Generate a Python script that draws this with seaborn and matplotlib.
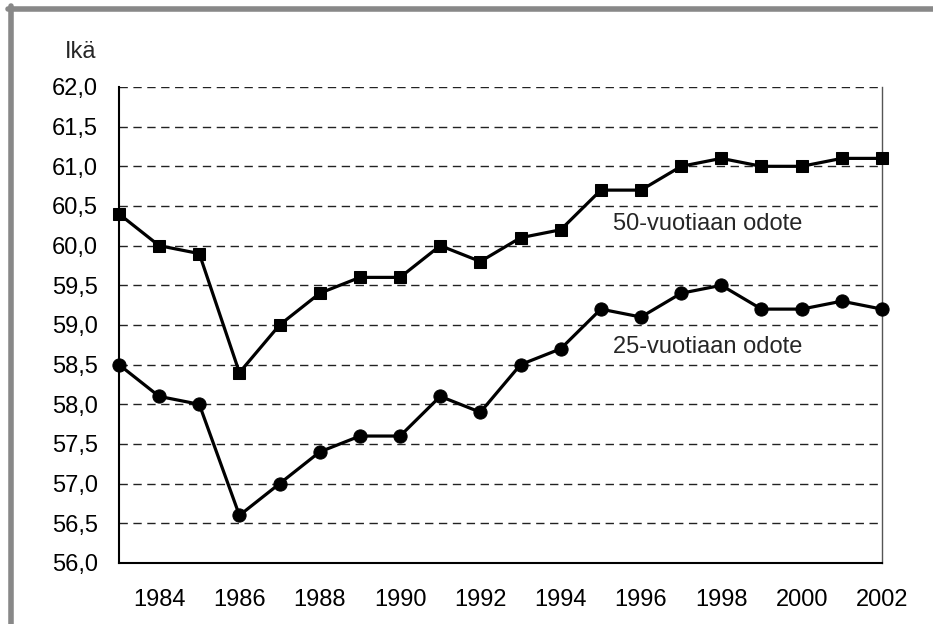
import matplotlib
matplotlib.use("Agg")
import matplotlib.pyplot as plt
import seaborn as sns
import pandas as pd

# data
years = list(range(1983, 2003))
odote_50 = [60.4, 60.0, 59.9, 58.4, 59.0, 59.4, 59.6, 59.6, 60.0, 59.8,
            60.1, 60.2, 60.7, 60.7, 61.0, 61.1, 61.0, 61.0, 61.1, 61.1]
odote_25 = [58.5, 58.1, 58.0, 56.6, 57.0, 57.4, 57.6, 57.6, 58.1, 57.9,
            58.5, 58.7, 59.2, 59.1, 59.4, 59.5, 59.2, 59.2, 59.3, 59.2]
y_ticks = [56.0, 56.5, 57.0, 57.5, 58.0, 58.5, 59.0, 59.5, 60.0, 60.5, 61.0, 61.5, 62.0]

df = pd.DataFrame({"vuosi": years, "50": odote_50, "25": odote_25})

sns.set_style("white")
plt.rcParams["font.family"] = ["Liberation Sans", "DejaVu Sans"]

fig = plt.figure(figsize=(9.33, 6.24), dpi=100)
ax = fig.add_axes([0.1275, 0.0978, 0.8178, 0.7628])

sns.lineplot(data=df, x="vuosi", y="50", ax=ax, color="black", linewidth=2.3,
             marker="s", markersize=9, markeredgecolor="black", clip_on=False, zorder=5)
sns.lineplot(data=df, x="vuosi", y="25", ax=ax, color="black", linewidth=2.3,
             marker="o", markersize=9.5, markeredgecolor="black", clip_on=False, zorder=5)

ax.set_xlim(1983, 2002)
ax.set_ylim(56, 62)
ax.set_yticks(y_ticks)
ax.set_yticklabels([f"{v:.1f}".replace(".", ",") for v in y_ticks], fontsize=17)
ax.set_xticks(years)
ax.set_xticklabels([str(y) if y % 2 == 0 else "" for y in years], fontsize=17)
ax.tick_params(axis="y", direction="out", length=6, width=1, pad=9, colors="black")
ax.tick_params(axis="x", direction="out", length=6, width=1, pad=13, colors="black")
ax.set_xlabel("")
ax.set_ylabel("")

ax.grid(axis="y", color="#222222", linestyle=(0, (6, 4)), linewidth=1)
ax.grid(axis="x", visible=False)
for s in ["left", "bottom"]:
    ax.spines[s].set_color("black")
    ax.spines[s].set_linewidth(1.5)
ax.spines["top"].set_visible(False)
ax.spines["right"].set_color("#555555")
ax.spines["right"].set_linewidth(1)

ax.text(1995.3, 60.27, "50-vuotiaan odote", fontsize=17, va="center", ha="left")
ax.text(1995.3, 58.72, "25-vuotiaan odote", fontsize=17, va="center", ha="left")
fig.text(65 / 933, 1 - 52 / 624, "Ikä", fontsize=17, va="center", ha="left")

# gray frame on top and left edges
fig.add_artist(plt.Line2D([8 / 933, 1], [1 - 8.5 / 624, 1 - 8.5 / 624],
                          color="#888888", linewidth=4, transform=fig.transFigure))
fig.add_artist(plt.Line2D([10.5 / 933, 10.5 / 933], [0, 1 - 6 / 624],
                          color="#888888", linewidth=4, transform=fig.transFigure))

fig.savefig("out.png", dpi=100)
